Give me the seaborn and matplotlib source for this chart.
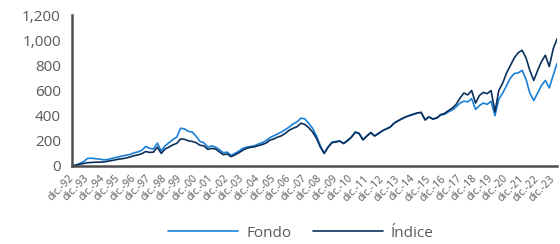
import matplotlib
matplotlib.use("Agg")
import matplotlib.pyplot as plt
import matplotlib.ticker as mticker
import seaborn as sns
import pandas as pd

# Valores trimestrales (dic-92 a mar-24)
fondo = [
    0,
    8, 20, 35, 60,        # 1993
    62, 58, 55, 50,       # 1994
    50, 58, 66, 72,       # 1995
    80, 86, 92, 105,      # 1996
    112, 125, 155, 140,   # 1997
    135, 182, 120, 160,   # 1998
    185, 210, 230, 300,   # 1999
    295, 275, 270, 235,   # 2000
    195, 185, 150, 160,   # 2001
    150, 130, 105, 110,   # 2002
    85, 100, 118, 140,    # 2003
    150, 155, 160, 175,   # 2004
    185, 200, 225, 240,   # 2005
    255, 270, 290, 310,   # 2006
    335, 350, 380, 375,   # 2007
    340, 300, 240, 160,   # 2008
    100, 150, 190, 195,   # 2009
    200, 180, 205, 230,   # 2010
    270, 260, 210, 240,   # 2011
    265, 240, 260, 280,   # 2012
    295, 310, 340, 360,   # 2013
    375, 390, 400, 410,   # 2014
    420, 425, 370, 390,   # 2015
    375, 380, 405, 410,   # 2016
    430, 445, 470, 500,   # 2017
    515, 510, 535, 450,   # 2018
    480, 500, 490, 515,   # 2019
    400, 530, 580, 640,   # 2020
    700, 735, 740, 760,   # 2021
    690, 580, 520, 580,   # 2022
    640, 680, 620, 720,   # 2023
    815,                  # 2024
]
indice = [
    0,
    6, 14, 20, 26,
    28, 30, 30, 32,
    36, 42, 48, 54,
    58, 64, 72, 82,
    88, 98, 115, 108,
    110, 150, 100, 135,
    150, 168, 180, 215,
    212, 200, 195, 185,
    165, 160, 132, 140,
    135, 112, 90, 95,
    74, 88, 105, 125,
    140, 148, 152, 162,
    170, 182, 205, 215,
    230, 240, 260, 285,
    300, 312, 340, 330,
    305, 270, 220, 150,
    100, 150, 185, 190,
    198, 178, 200, 228,
    268, 258, 207, 238,
    265, 238, 258, 280,
    295, 308, 340, 358,
    375, 390, 402, 412,
    422, 426, 365, 390,
    372, 382, 408, 418,
    440, 460, 490, 540,
    580, 565, 600, 500,
    560, 585, 575, 600,
    430, 600, 660, 740,
    800, 860, 900, 920,
    860, 760, 680, 760,
    830, 880, 790, 930,
    1010,
]
fechas = pd.date_range("1992-12-31", periods=len(fondo), freq="QE")
series = ["Fondo", "Índice"]
colores = ["#1a7fd6", "#0b2f5b"]

df = pd.DataFrame({"fecha": fechas, "Fondo": fondo, "Índice": indice})
long_df = df.melt(id_vars="fecha", var_name="serie", value_name="valor")

sns.set_style("white")
plt.rcParams["font.family"] = ["Open Sans", "DejaVu Sans"]

fig = plt.figure(figsize=(5.6, 2.44), dpi=100)
ax = fig.add_axes([0.1286, 0.3197, 0.8661, 0.6188])

sns.lineplot(data=long_df, x="fecha", y="valor", hue="serie", hue_order=series,
             palette=colores, linewidth=1.2, ax=ax, legend=False)

ax.set_ylim(0, 1200)
ax.set_xlim(fechas[0], fechas[-1])
ax.yaxis.set_major_locator(mticker.MultipleLocator(200))
ax.yaxis.set_major_formatter(mticker.StrMethodFormatter("{x:,.0f}"))

ticks = pd.date_range("1992-12-31", "2023-12-31", freq="YE")
ax.set_xticks(ticks)
ax.set_xticklabels([f"dic.-{t.year % 100:02d}" for t in ticks], rotation=45,
                   ha="right", va="center", rotation_mode="anchor",
                   fontsize=7.5, color="#595959")
ax.tick_params(axis="y", labelsize=11, colors="#595959", length=5, width=1.2,
               direction="out", pad=3)
ax.tick_params(axis="x", length=4, width=1, direction="out", color="#595959", pad=4)
ax.set_xlabel("")
ax.set_ylabel("")

for s in ["top", "right"]:
    ax.spines[s].set_visible(False)
for s in ["left", "bottom"]:
    ax.spines[s].set_color("#4d4d4d")
    ax.spines[s].set_linewidth(1.8)

handles = [plt.Line2D([], [], color=c, linewidth=1.2) for c in colores]
fig.legend(handles, series, loc="center", bbox_to_anchor=(0.537, 0.045), ncol=2,
           frameon=False, fontsize=11, handlelength=4.6, columnspacing=1.4,
           handletextpad=0.5, labelcolor="#595959")

fig.savefig("out.png", dpi=100)
